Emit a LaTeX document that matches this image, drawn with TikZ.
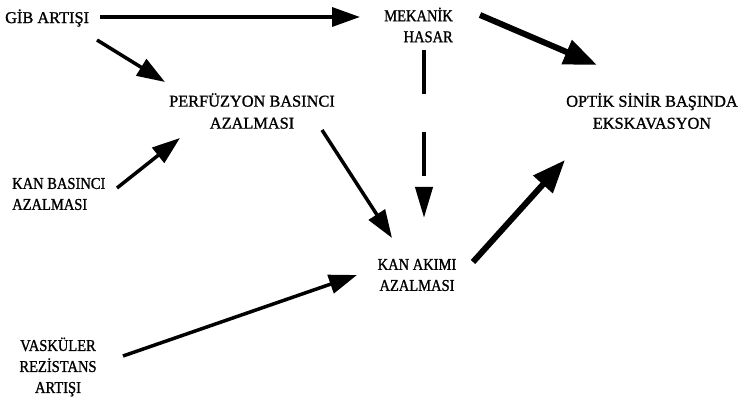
\documentclass[tikz,border=0pt]{standalone}
\usepackage{fontspec}
\setmainfont{Liberation Serif}[FakeStretch=0.88,FakeBold=1.2]
\newfontfamily\widefam{Liberation Serif}[FakeStretch=0.99,FakeBold=1.2]
\usetikzlibrary{arrows.meta,calc}
\begin{document}
\begin{tikzpicture}[x=1pt,y=-1pt,
  lbl/.style={inner sep=0pt,font=\fontsize{16.5}{21}\selectfont},
  widelbl/.style={inner sep=0pt,font=\widefam\fontsize{16.5}{22}\selectfont},
  arr/.style={line width=3.5pt,-{Triangle[length=28pt,width=19pt]}},
  thickarr/.style={line width=6pt,-{Triangle[length=33pt,width=25pt]}},
  dasharr/.style={line width=4pt,dash pattern=on 44pt off 38pt,-{Triangle[length=31pt,width=17pt]}}]
\useasboundingbox (0,0) rectangle (739,403);
\node[widelbl,anchor=west] (gib) at (5,18) {GİB ARTIŞI};
\node[lbl,anchor=east,align=right] (mek) at (453,25) {MEKANİK\\HASAR};
\node[widelbl,align=center] (perf) at (252,111) {PERFÜZYON BASINCI\\AZALMASI};
\node[widelbl,align=center] (optik) at (652,111) {OPTİK SİNİR BAŞINDA\\EKSKAVASYON};
\node[lbl,anchor=west,align=left] (kanb) at (12,194) {KAN BASINCI\\AZALMASI};
\node[lbl,align=center] (kana) at (417,275) {KAN AKIMI\\AZALMASI};
\node[lbl,align=center] (vask) at (58,367) {VASKÜLER\\REZİSTANS\\ARTIŞI};
% connectors
\draw[arr] ($(gib.west)+(95,-1)$) -- ($(mek.east)+(-93,-8)$);
\draw[arr] ($(gib.west)+(92,22)$) -- ($(perf.center)+(-87,-29)$);
\draw[thickarr] ($(mek.east)+(27,-10)$) -- ($(optik.center)+(-55,-46)$);
\draw[dasharr] ($(mek.east)+(-29,25)$) -- ($(kana.center)+(7,-57)$);
\draw[arr] ($(perf.center)+(70,19)$) -- ($(kana.center)+(-25,-37)$);
\draw[arr] ($(kanb.west)+(105,-6)$) -- ($(perf.center)+(-72,27)$);
\draw[arr] ($(vask.center)+(65,-11)$) -- ($(kana.center)+(-60,0)$);
\draw[thickarr] ($(kana.center)+(56,-13)$) -- ($(optik.center)+(-87,49)$);
\end{tikzpicture}
\end{document}
